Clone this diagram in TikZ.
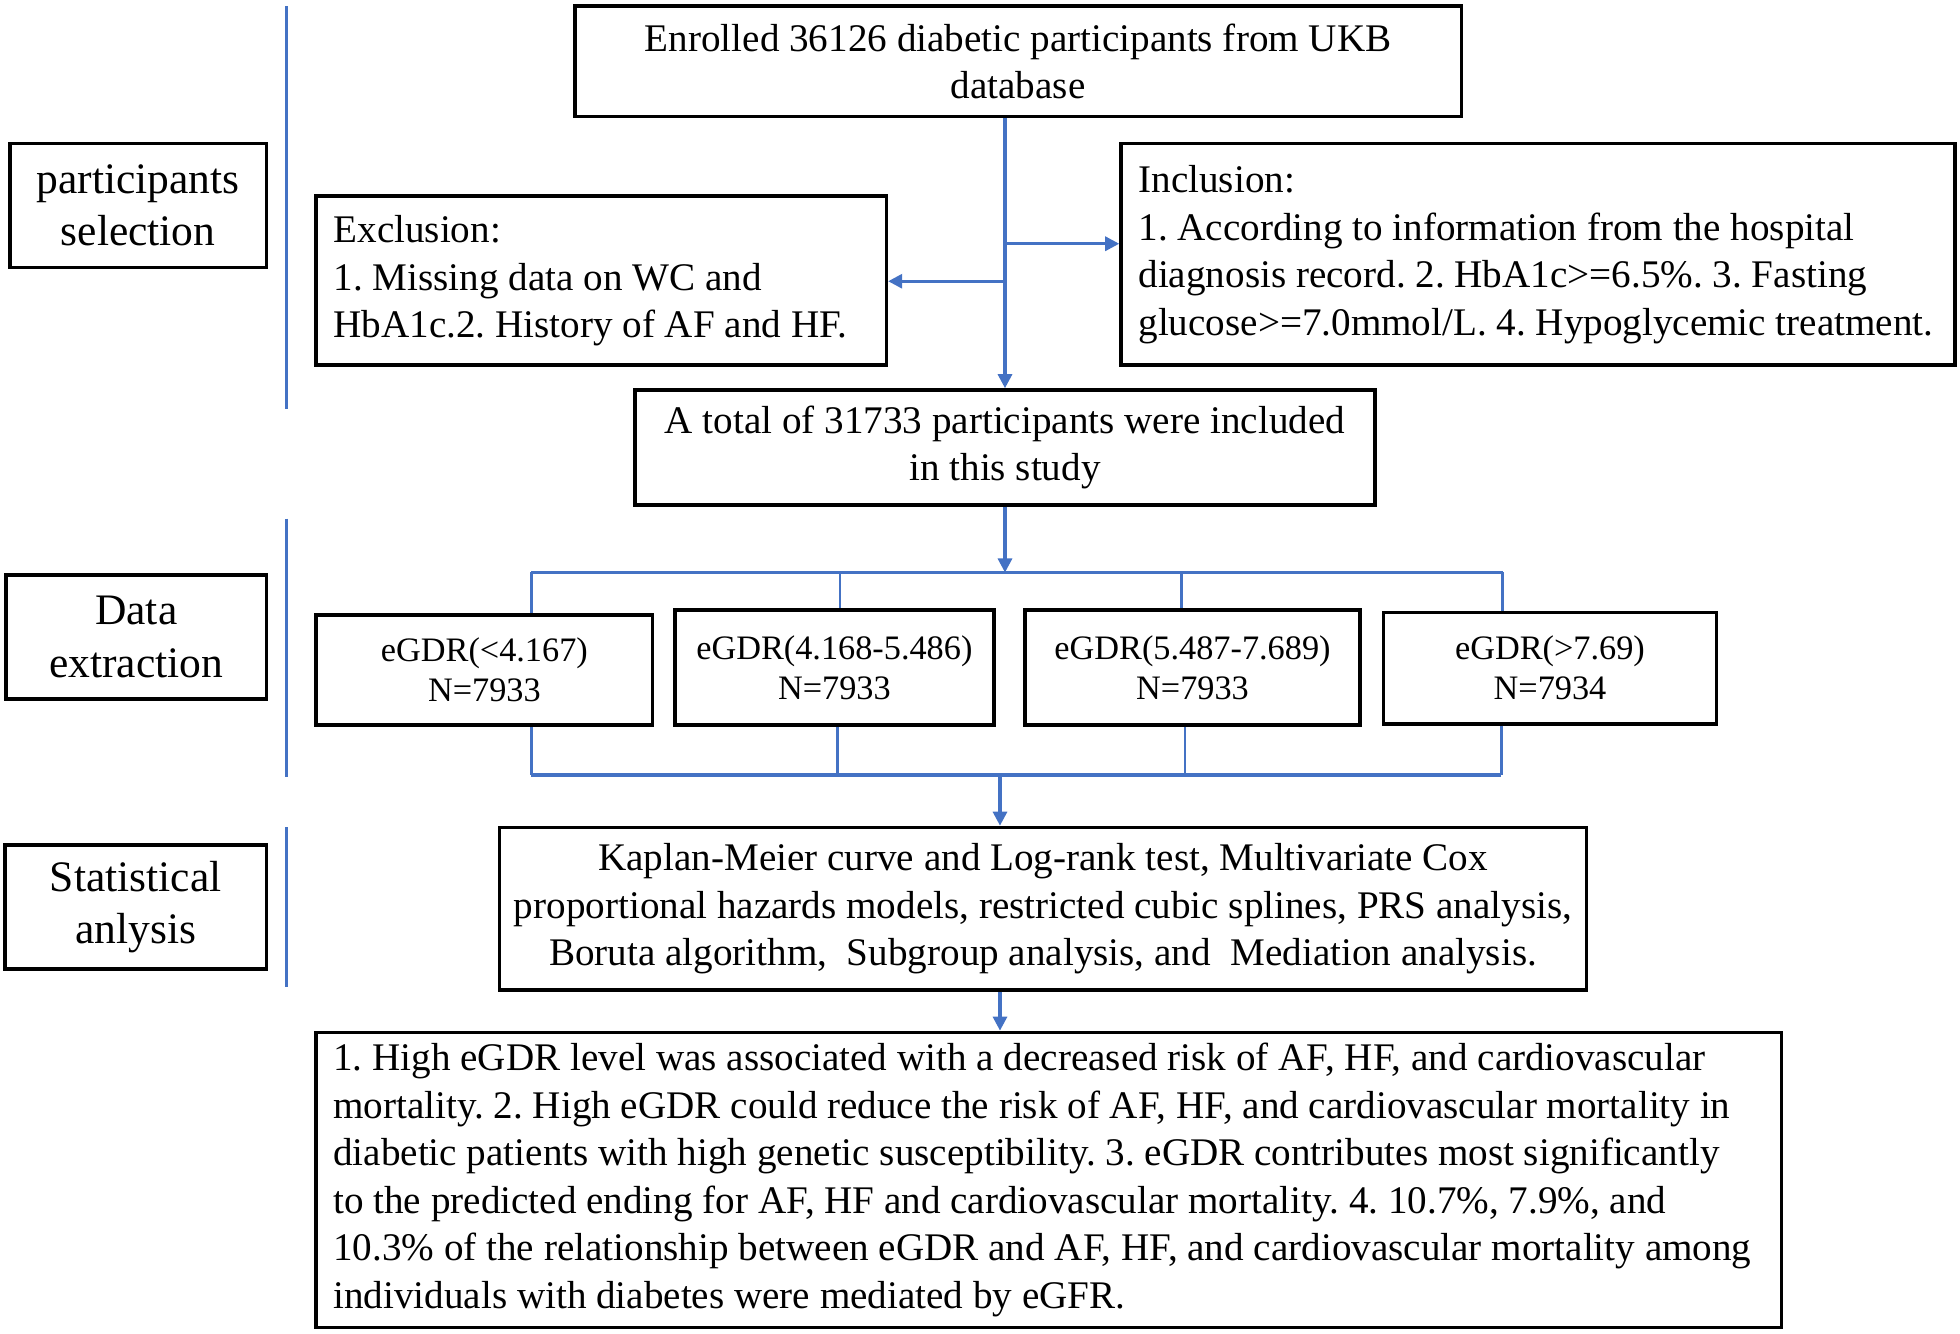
\documentclass[tikz,border=0pt]{standalone}
\usepackage{fontspec}
\setmainfont{Liberation Serif}
\usepackage{tikz}
\usetikzlibrary{arrows.meta}
\definecolor{blueline}{RGB}{68,114,196}
\frenchspacing
\newcommand{\leftlines}[1]{\spaceskip=0pt\xspaceskip=0pt\begin{tabular}{@{}l@{}}#1\end{tabular}}

\begin{document}
\begin{tikzpicture} [x=0.01cm, y=-0.01cm,
  box/.style={draw, line width=0.8pt, inner sep=0pt, align=center, font=\fontsize{8.9}{10.8}\selectfont},
  leftbox/.style={box, align=left, inner xsep=0.14cm},
  side/.style={box, font=\fontsize{9.9}{11.9}\selectfont},
  grp/.style={box, font=\fontsize{7.8}{9.1}\selectfont},
  flow/.style={draw=blueline, line width=0.7pt, -{Triangle[length=3.2pt,width=3.2pt]}},
  bus/.style={draw=blueline, line width=0.75pt},
  drop/.style={draw=blueline, line width=0.6pt},
  sep/.style={draw=blueline, line width=0.6pt}]

\useasboundingbox (0,0) rectangle (1568,1067);

\draw [sep] (229,5) -- (229,327);
\draw [sep] (229,415) -- (229,622);
\draw [sep] (229,662) -- (229,790);

\node [side, minimum width=2.05cm, minimum height=0.99cm] (sel) at (110.5,164.5) {participants\\selection};
\node [side, minimum width=2.08cm, minimum height=0.99cm] (ext) at (109,509.5) {Data\\extraction};
\node [side, minimum width=2.09cm, minimum height=0.99cm] (stat) at (108.5,725.5) {Statistical\\anlysis};

\node [box, minimum width=7.09cm, minimum height=0.88cm] (enrol) at (814.5,49) {Enrolled 36126 diabetic participants from UKB\\database};
\node [leftbox, text width=4.28cm, minimum height=1.35cm] (excl) at (481,224.5) {\leftlines{Exclusion:\\1. Missing data on WC and\\HbA1c.2. History of AF and HF.}};
\node [leftbox, text width=6.39cm, minimum height=1.77cm] (incl) at (1230.5,203.5) {\leftlines{Inclusion:\\1. According to information from the hospital\\diagnosis record. 2. HbA1c>=6.5\%. 3. Fasting\\glucose>=7.0mmol/L. 4. Hypoglycemic treatment.}};
\node [box, minimum width=5.92cm, minimum height=0.92cm] (total) at (804,358) {A total of 31733 participants were included\\in this study};

\node [grp, minimum width=2.69cm, minimum height=0.88cm] (g1) at (387.5,536) {eGDR(<4.167)\\N=7933};
\node [grp, minimum width=2.55cm, minimum height=0.92cm] (g2) at (667.5,534) {eGDR(4.168-5.486)\\N=7933};
\node [grp, minimum width=2.68cm, minimum height=0.92cm] (g3) at (954,534) {eGDR(5.487-7.689)\\N=7933};
\node [grp, minimum width=2.66cm, minimum height=0.89cm] (g4) at (1240,534.5) {eGDR(>7.69)\\N=7934};

\node [box, minimum width=8.69cm, minimum height=1.30cm] (kap) at (834.5,727) {Kaplan-Meier curve and Log-rank test, Multivariate Cox\\proportional hazards models, restricted cubic splines, PRS analysis,\\Boruta algorithm,\ \ Subgroup analysis, and\ \ Mediation analysis.};
\node [leftbox, text width=11.44cm, minimum height=2.36cm] (res) at (839,944) {\leftlines{1. High eGDR level was associated with a decreased risk of AF, HF, and cardiovascular\\mortality. 2. High eGDR could reduce the risk of AF, HF, and cardiovascular mortality in\\diabetic patients with high genetic susceptibility. 3. eGDR contributes most significantly\\to the predicted ending for AF, HF and cardiovascular mortality. 4. 10.7\%, 7.9\%, and\\10.3\% of the relationship between eGDR and AF, HF, and cardiovascular mortality among\\individuals with diabetes were mediated by eGFR.}};

\coordinate (br) at (804,195);
\coordinate (bl) at (804,225);
\draw [flow] (total.north |- enrol.south) -- (total.north);
\draw [flow] (br) -- (br -| incl.west);
\draw [flow] (bl) -- (bl -| excl.east);

\coordinate (t1) at (425,458);
\coordinate (t2) at (672,458);
\coordinate (t3) at (945,458);
\coordinate (t4) at (1202,458);
\coordinate (b1) at (425,620);
\coordinate (b2) at (670,620);
\coordinate (b3) at (948,620);
\coordinate (b4) at (1201,620);
\coordinate (bm) at (800,620);

\draw [flow] (total.south) -- (total.south |- t1);
\draw [bus] (t1) -- (t4);
\draw [bus] (b1) -- (b4);
\foreach \i in {1,...,4} {
  \draw [drop] (t\i) -- (t\i |- g\i.north);
  \draw [drop] (g\i.south -| b\i) -- (b\i);
}
\draw [flow] (bm) -- (bm |- kap.north);
\draw [flow] (kap.south -| bm) -- (bm |- res.north);

\end{tikzpicture}
\end{document}
